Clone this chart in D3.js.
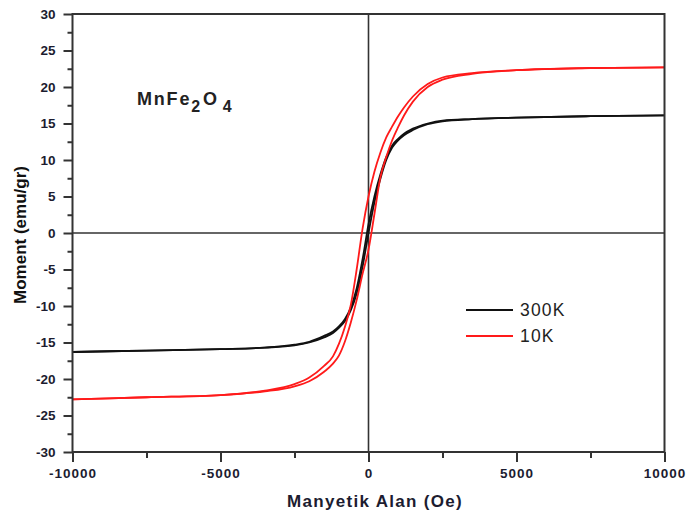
<!DOCTYPE html>
<html>
<head>
<meta charset="utf-8">
<script src="https://cdn.jsdelivr.net/npm/d3@7"></script>
<style>
  body { margin: 0; background: #fff; }
  svg { display: block; font-family: "Liberation Sans", Arial, sans-serif; }
</style>
</head>
<body>
<svg id="chart" width="688" height="517"></svg>
<script>
// applied field (Oe), shared by every branch
const fieldSteps = [-10000, -7500, -5000, -3500, -2500, -2000, -1500, -1200, -1000, -800, -600, -400, -200, 0,
  200, 400, 600, 800, 1000, 1200, 1500, 2000, 2500, 3500, 5000, 7500, 10000];

// 300K loop: field going down / field going up
const m300Down = [-16.3, -16.1, -15.9, -15.7, -15.3, -14.9, -14.1, -13.5, -12.8, -11.8, -10.2, -7.6, -3.6, 1.2,
  5.0, 8.0, 10.4, 12.0, 12.9, 13.6, 14.3, 15.0, 15.4, 15.6, 15.8, 16.0, 16.1];
const m300Up = [-16.3, -16.1, -15.9, -15.7, -15.4, -15.0, -14.3, -13.7, -13.0, -12.1, -10.6, -8.3, -4.6, 0.0,
  4.2, 7.4, 10.0, 11.7, 12.7, 13.4, 14.1, 14.9, 15.3, 15.6, 15.8, 16.0, 16.1];

// 10K loop
const m10Down = [-22.8, -22.5, -22.2, -21.6, -20.7, -19.8, -18.2, -16.9, -15.2, -12.9, -9.9, -5.0, 0.6, 5.0,
  8.4, 11.0, 13.1, 14.6, 16.0, 17.2, 18.7, 20.4, 21.3, 21.9, 22.3, 22.6, 22.7];
const m10Up = [-22.8, -22.5, -22.2, -21.7, -21.0, -20.3, -19.0, -17.9, -16.8, -14.9, -12.3, -9.2, -5.6, -2.3,
  2.6, 7.6, 10.4, 12.7, 14.5, 16.1, 18.0, 20.0, 21.0, 21.8, 22.3, 22.6, 22.7];

const xMajor = [-10000, -5000, 0, 5000, 10000];
const xMinor = [-7500, -2500, 2500, 7500];
const yMajor = [-30, -25, -20, -15, -10, -5, 0, 5, 10, 15, 20, 25, 30];
const yMinor = [-27.5, -22.5, -17.5, -12.5, -7.5, -2.5, 2.5, 7.5, 12.5, 17.5, 22.5, 27.5];

const seriesNames = ["300K", "10K"];
const seriesColors = ["#111", "#ff1a1a"];

const svg = d3.select("#chart");
const pLeft = 72.5, pRight = 664.5, pTop = 14, pBottom = 452;

const x = d3.scaleLinear().domain([-10000, 10000]).range([pLeft, pRight]);
const y = d3.scaleLinear().domain([-30, 30]).range([pBottom, pTop]);

// zero lines
svg.append("line").attr("x1", x(0)).attr("x2", x(0)).attr("y1", pTop).attr("y2", pBottom)
  .attr("stroke", "#333").attr("stroke-width", 1.6);
svg.append("line").attr("x1", pLeft).attr("x2", pRight).attr("y1", y(0)).attr("y2", y(0))
  .attr("stroke", "#333").attr("stroke-width", 1.6);

// curves
const line = d3.line()
  .x(d => x(d[0]))
  .y(d => y(d[1]))
  .curve(d3.curveMonotoneX);

const loops = [
  { color: seriesColors[0], branches: [m300Down, m300Up] },
  { color: seriesColors[1], branches: [m10Down, m10Up] }
];

loops.forEach(s => {
  s.branches.forEach(b => {
    svg.append("path")
      .datum(fieldSteps.map((h, i) => [h, b[i]]))
      .attr("d", line)
      .attr("fill", "none")
      .attr("stroke", s.color)
      .attr("stroke-width", 1.8);
  });
});

// frame
svg.append("rect")
  .attr("x", pLeft).attr("y", pTop)
  .attr("width", pRight - pLeft).attr("height", pBottom - pTop)
  .attr("fill", "none").attr("stroke", "#333").attr("stroke-width", 2);

// plain hyphen minus like the original
const plain = d => String(d);

// y axis
const yAxis = svg.append("g").attr("transform", `translate(${pLeft},0)`)
  .call(d3.axisLeft(y).tickValues(yMajor).tickSize(9).tickPadding(8).tickFormat(plain));
svg.append("g").attr("transform", `translate(${pLeft},0)`)
  .call(d3.axisLeft(y).tickValues(yMinor).tickSize(5).tickFormat(""));

// x axis
const xAxis = svg.append("g").attr("transform", `translate(0,${pBottom})`)
  .call(d3.axisBottom(x).tickValues(xMajor).tickSize(10).tickPadding(6).tickFormat(plain));
svg.append("g").attr("transform", `translate(0,${pBottom})`)
  .call(d3.axisBottom(x).tickValues(xMinor).tickSize(6).tickFormat(""));

svg.selectAll(".domain").remove();
svg.selectAll(".tick line").attr("stroke", "#333").attr("stroke-width", 2);

yAxis.selectAll("text")
  .attr("font-size", 13.5).attr("font-weight", "bold").attr("fill", "#1c1c30")
  .attr("font-family", "Liberation Sans, Arial, sans-serif");
xAxis.selectAll("text")
  .attr("font-size", 13.5).attr("font-weight", "bold").attr("fill", "#1c1c30")
  .attr("letter-spacing", 1)
  .attr("font-family", "Liberation Sans, Arial, sans-serif");

// axis titles
svg.append("text")
  .attr("x", 375).attr("y", 507)
  .attr("text-anchor", "middle")
  .attr("font-size", 17).attr("font-weight", "bold").attr("letter-spacing", 1.3)
  .attr("fill", "#1c1c30")
  .text("Manyetik Alan (Oe)");

svg.append("text")
  .attr("transform", `translate(26,${(pTop + pBottom) / 2 + 2}) rotate(-90)`)
  .attr("text-anchor", "middle")
  .attr("font-size", 17).attr("font-weight", "bold")
  .attr("fill", "#111")
  .text("Moment (emu/gr)");

// compound label
const label = svg.append("text")
  .attr("x", 137).attr("y", 105)
  .attr("font-size", 18).attr("font-weight", "bold").attr("fill", "#222")
  .attr("letter-spacing", 1.8);
label.append("tspan").text("MnFe");
label.append("tspan").attr("font-size", 16).attr("dy", 7).text("2");
label.append("tspan").attr("dy", -7).attr("dx", 1).text("O");
label.append("tspan").attr("font-size", 16).attr("dy", 7).attr("dx", 4).text("4");

// legend
const legend = svg.append("g");
seriesNames.forEach((name, i) => {
  const ly = 310 + i * 26;
  legend.append("line")
    .attr("x1", 466).attr("x2", 513).attr("y1", ly).attr("y2", ly)
    .attr("stroke", seriesColors[i]).attr("stroke-width", 1.8);
  legend.append("text")
    .attr("x", 520).attr("y", ly + 6)
    .attr("font-size", 17.5).attr("letter-spacing", 1.2)
    .attr("fill", "#222")
    .text(name);
});
</script>
</body>
</html>
